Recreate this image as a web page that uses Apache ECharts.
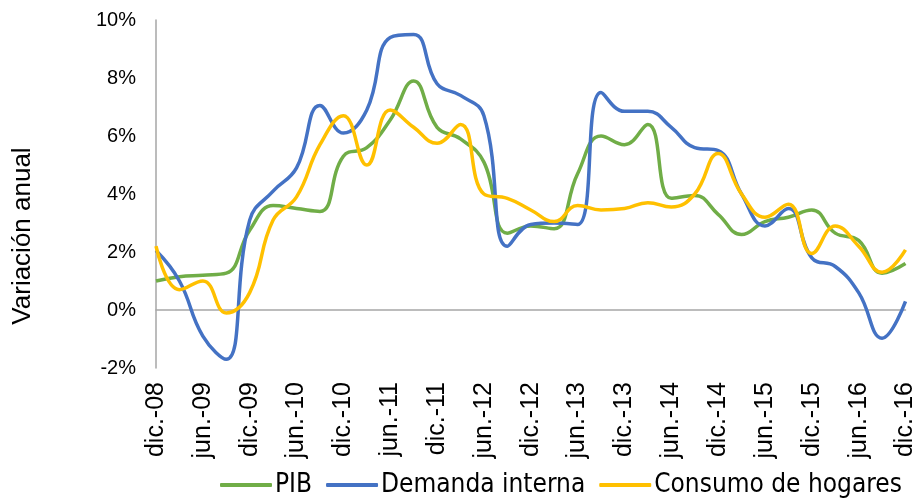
<!DOCTYPE html>
<html>
<head>
<meta charset="utf-8">
<script src="https://cdn.jsdelivr.net/npm/echarts@6/dist/echarts.min.js"></script>
<style>
    html, body { margin: 0; padding: 0; background: #fff; }
    #chart { width: 918px; height: 498px; }
</style>
</head>
<body>
<div id="chart"></div>
<script>
// trimestres dic-08 .. dic-16
var quarters = [
    'dic.-08', 'mar.-09', 'jun.-09', 'sep.-09', 'dic.-09', 'mar.-10', 'jun.-10', 'sep.-10',
    'dic.-10', 'mar.-11', 'jun.-11', 'sep.-11', 'dic.-11', 'mar.-12', 'jun.-12', 'sep.-12',
    'dic.-12', 'mar.-13', 'jun.-13', 'sep.-13', 'dic.-13', 'mar.-14', 'jun.-14', 'sep.-14',
    'dic.-14', 'mar.-15', 'jun.-15', 'sep.-15', 'dic.-15', 'mar.-16', 'jun.-16', 'sep.-16',
    'dic.-16'
];

var pib = [
    1.0, 1.15, 1.2, 1.27, 2.75, 3.6, 3.5, 3.4,
    5.3, 5.6, 6.55, 7.9, 6.3, 5.9, 5.1, 2.65,
    2.9, 2.8, 4.7, 6.0, 5.7, 6.4, 3.85, 3.95,
    3.3, 2.6, 3.05, 3.2, 3.45, 2.65, 2.4, 1.27,
    1.6
];

var demandaInterna = [
    2.05, 1.0, -0.9, -1.7, 3.1, 4.1, 4.9, 7.05,
    6.1, 6.9, 9.4, 9.5, 7.8, 7.4, 6.7, 2.2,
    2.95, 3.0, 2.95, 7.5, 6.85, 6.85, 6.3, 5.6,
    5.5, 4.0, 2.9, 3.5, 1.8, 1.5, 0.6, -0.97,
    0.3
];

var consumoHogares = [
    2.2, 0.7, 1.0, -0.1, 0.6, 3.1, 3.9, 5.7,
    6.7, 5.0, 6.9, 6.3, 5.75, 6.4, 4.0, 3.85,
    3.45, 3.05, 3.6, 3.45, 3.5, 3.7, 3.55, 4.0,
    5.4, 4.0, 3.2, 3.65, 1.95, 2.9, 2.2, 1.3,
    2.07
];

var yTicks = { min: -2, max: 10, interval: 2 };

var axisFont = "'Liberation Sans', Arial, sans-serif";
var legendFont = "'DejaVu Sans Condensed', 'Liberation Sans Narrow', sans-serif";

var myChart = echarts.init(document.getElementById('chart'));

var option = {
    color: ['#70AD47', '#4472C4', '#FFC000'],
    animation: false,
    grid: {
        left: 156,
        right: 10,
        top: 20,
        bottom: 130
    },
    graphic: [
        {
            type: 'text',
            x: 23,
            y: 236,
            rotation: Math.PI / 2,
            style: {
                text: 'Variación anual',
                fontFamily: axisFont,
                fontSize: 26,
                fill: '#000',
                align: 'center',
                verticalAlign: 'middle'
            }
        }
    ],
    legend: {
        left: 220,
        top: 472,
        padding: 0,
        itemWidth: 52,
        itemHeight: 4,
        itemGap: 14,
        icon: 'roundRect',
        textStyle: {
            fontFamily: legendFont,
            fontSize: 26,
            color: '#000',
            padding: [0, 0, 0, -2]
        },
        data: ['PIB', 'Demanda interna', 'Consumo de hogares']
    },
    xAxis: [
        {
            // etiquetas abajo
            type: 'category',
            data: quarters,
            boundaryGap: false,
            axisLine: { show: false, onZero: false },
            axisTick: { show: false },
            axisLabel: {
                interval: 1,
                rotate: 90,
                margin: 14,
                fontFamily: axisFont,
                fontSize: 25,
                color: '#000'
            }
        },
        {
            // linea del cero
            type: 'category',
            data: quarters,
            boundaryGap: false,
            position: 'bottom',
            axisLine: { show: true, onZero: true, lineStyle: { color: '#A6A6A6', width: 1.5 } },
            axisTick: { show: false },
            axisLabel: { show: false }
        }
    ],
    yAxis: {
        type: 'value',
        min: yTicks.min,
        max: yTicks.max,
        interval: yTicks.interval,
        axisLine: { show: true, lineStyle: { color: '#A6A6A6', width: 1.5 } },
        axisTick: { show: false },
        splitLine: { show: false },
        axisLabel: {
            formatter: '{value}%',
            margin: 20,
            fontFamily: axisFont,
            fontSize: 20,
            color: '#000'
        }
    },
    series: [
        {
            name: 'PIB',
            type: 'line',
            data: pib,
            smooth: 0.45,
            showSymbol: false,
            lineStyle: { width: 3.5 }
        },
        {
            name: 'Demanda interna',
            type: 'line',
            data: demandaInterna,
            smooth: 0.45,
            showSymbol: false,
            lineStyle: { width: 3.5 }
        },
        {
            name: 'Consumo de hogares',
            type: 'line',
            data: consumoHogares,
            smooth: 0.45,
            showSymbol: false,
            lineStyle: { width: 3.5 }
        }
    ]
};

myChart.setOption(option);
</script>
</body>
</html>
